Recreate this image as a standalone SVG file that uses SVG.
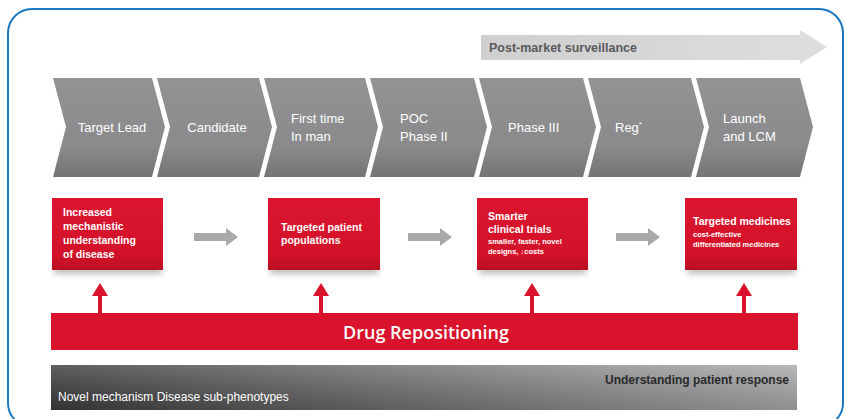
<svg xmlns="http://www.w3.org/2000/svg" width="846" height="419" viewBox="0 0 846 419">
  <defs>
    <linearGradient id="chevFill" x1="0" y1="0" x2="0" y2="1">
      <stop offset="0" stop-color="#939395"/>
      <stop offset="0.7" stop-color="#8a8a8c"/>
      <stop offset="1" stop-color="#747476"/>
    </linearGradient>
    <linearGradient id="redFill" x1="0" y1="0" x2="0" y2="1">
      <stop offset="0" stop-color="#dc1530"/>
      <stop offset="0.8" stop-color="#d31229"/>
      <stop offset="1" stop-color="#b80f22"/>
    </linearGradient>
    <linearGradient id="pmsFill" x1="0" y1="0" x2="1" y2="0">
      <stop offset="0" stop-color="#cfcfd0"/>
      <stop offset="1" stop-color="#dedede"/>
    </linearGradient>
    <linearGradient id="baseFill" x1="0" y1="0" x2="1" y2="0">
      <stop offset="0" stop-color="#3c3c3e"/>
      <stop offset="0.45" stop-color="#6e6e70"/>
      <stop offset="1" stop-color="#a9a9ab"/>
    </linearGradient>
    <linearGradient id="baseShade" x1="0" y1="0" x2="0" y2="1">
      <stop offset="0" stop-color="#ffffff" stop-opacity="0.18"/>
      <stop offset="1" stop-color="#000000" stop-opacity="0.15"/>
    </linearGradient>
    <filter id="soft" x="-20%" y="-50%" width="140%" height="200%">
      <feGaussianBlur stdDeviation="3"/>
    </filter>
    <!-- red upward arrow, tip at origin -->
    <polygon id="upArrow" points="0,0 8,13 2,13 2,30 -2,30 -2,13 -8,13" fill="#d8132b"/>
  </defs>
  <style>
    .chev { fill: url(#chevFill); }
    .stage { font-family: "Liberation Sans", Arial, sans-serif; font-size: 13px; fill: #ffffff; }
    .box { fill: url(#redFill); }
    .shadow { fill: #000000; opacity: 0.25; filter: url(#soft); }
    .boxTitle { font-family: "Liberation Sans", Arial, sans-serif; font-size: 10.5px; font-weight: bold; fill: #ffffff; }
    .boxSub { font-family: "Liberation Sans", Arial, sans-serif; font-size: 7.5px; font-weight: bold; fill: #ffffff; }
    .flow { fill: #a9a9aa; }
  </style>

  <!-- outer frame -->
  <rect x="8" y="9" width="835" height="418" rx="24" ry="24" fill="#ffffff" stroke="#1b78c2" stroke-width="2"/>

  <!-- post-market surveillance band -->
  <g id="post-market">
    <polygon points="481,35 800,35 800,30 827,47 800,64 800,60 481,60" fill="url(#pmsFill)"/>
    <text x="489" y="52" font-family="Liberation Sans, Arial, sans-serif" font-size="12.5" font-weight="bold" fill="#5a5a5c">Post-market surveillance</text>
  </g>

  <!-- pipeline stages -->
  <g id="stage-target-lead">
    <polygon class="chev" points="53,78 152,78 165,127 152,177 53,177 66,127"/>
    <text class="stage" x="112" y="132" text-anchor="middle">Target Lead</text>
  </g>
  <g id="stage-candidate">
    <polygon class="chev" points="157,78 259,78 272,127 259,177 157,177 170,127"/>
    <text class="stage" x="217" y="132" text-anchor="middle">Candidate</text>
  </g>
  <g id="stage-first-time">
    <polygon class="chev" points="264,78 365,78 378,127 365,177 264,177 277,127"/>
    <text class="stage" x="291" y="123">First time</text>
    <text class="stage" x="291" y="141">In man</text>
  </g>
  <g id="stage-poc">
    <polygon class="chev" points="370,78 474,78 487,127 474,177 370,177 383,127"/>
    <text class="stage" x="400" y="123">POC</text>
    <text class="stage" x="400" y="141">Phase II</text>
  </g>
  <g id="stage-phase3">
    <polygon class="chev" points="479,78 583,78 596,127 583,177 479,177 492,127"/>
    <text class="stage" x="508" y="132">Phase III</text>
  </g>
  <g id="stage-reg">
    <polygon class="chev" points="588,78 691,78 704,127 691,177 588,177 601,127"/>
    <text class="stage" x="615" y="132">Reg<tspan font-size="8" dy="-5">*</tspan></text>
  </g>
  <g id="stage-launch">
    <polygon class="chev" points="696,78 800,78 813,127 800,177 696,177 709,127"/>
    <text class="stage" x="723" y="123">Launch</text>
    <text class="stage" x="723" y="141">and LCM</text>
  </g>

  <!-- outcome boxes -->
  <g id="box-mechanistic">
    <rect class="shadow" x="54" y="262" width="108" height="12"/>
    <rect class="box" x="52" y="198" width="111" height="72"/>
    <text class="boxTitle" x="63" y="216">Increased</text>
    <text class="boxTitle" x="63" y="230">mechanistic</text>
    <text class="boxTitle" x="63" y="244">understanding</text>
    <text class="boxTitle" x="63" y="258">of disease</text>
  </g>
  <g id="box-populations">
    <rect class="shadow" x="270" y="262" width="108" height="12"/>
    <rect class="box" x="268" y="198" width="112" height="72"/>
    <text class="boxTitle" x="281" y="231">Targeted patient</text>
    <text class="boxTitle" x="281" y="244">populations</text>
  </g>
  <g id="box-trials">
    <rect class="shadow" x="479" y="262" width="107" height="12"/>
    <rect class="box" x="477" y="198" width="111" height="72"/>
    <text class="boxTitle" x="488" y="220">Smarter</text>
    <text class="boxTitle" x="488" y="233">clinical trials</text>
    <text class="boxSub" x="488" y="244">smaller, faster, novel</text>
    <text class="boxSub" x="488" y="254">designs, ↓costs</text>
  </g>
  <g id="box-medicines">
    <rect class="shadow" x="687" y="262" width="108" height="12"/>
    <rect class="box" x="685" y="198" width="112" height="72"/>
    <text class="boxTitle" x="693" y="225">Targeted medicines</text>
    <text class="boxSub" x="693" y="237">cost-effective</text>
    <text class="boxSub" x="693" y="247">differentiated medicines</text>
  </g>

  <!-- connectors -->
  <g id="connectors">
    <polygon class="flow" points="194,233 226,233 226,228 238,237 226,246 226,241 194,241"/>
    <polygon class="flow" points="408,233 440,233 440,228 452,237 440,246 440,241 408,241"/>
    <polygon class="flow" points="616,233 648,233 648,228 660,237 648,246 648,241 616,241"/>
    <use href="#upArrow" x="100" y="283"/>
    <use href="#upArrow" x="321" y="283"/>
    <use href="#upArrow" x="532" y="283"/>
    <use href="#upArrow" x="744" y="283"/>
  </g>

  <!-- drug repositioning bar -->
  <g id="drug-repositioning">
    <rect x="51" y="313" width="747" height="37" fill="#d8132b"/>
    <text x="426" y="338.5" text-anchor="middle" font-family="Open Sans, Liberation Sans, sans-serif" font-size="18" font-weight="600" fill="#ffffff">Drug Repositioning</text>
  </g>

  <!-- patient response band -->
  <g id="patient-response">
    <rect x="51" y="365" width="746" height="45" fill="url(#baseFill)"/>
    <rect x="51" y="365" width="746" height="45" fill="url(#baseShade)"/>
    <text x="789" y="384" text-anchor="end" font-family="Liberation Sans, Arial, sans-serif" font-size="12" font-weight="bold" fill="#2a2a2a">Understanding patient response</text>
    <text x="58" y="401" font-family="Liberation Sans, Arial, sans-serif" font-size="12" fill="#ffffff">Novel mechanism Disease sub-phenotypes</text>
  </g>
</svg>
